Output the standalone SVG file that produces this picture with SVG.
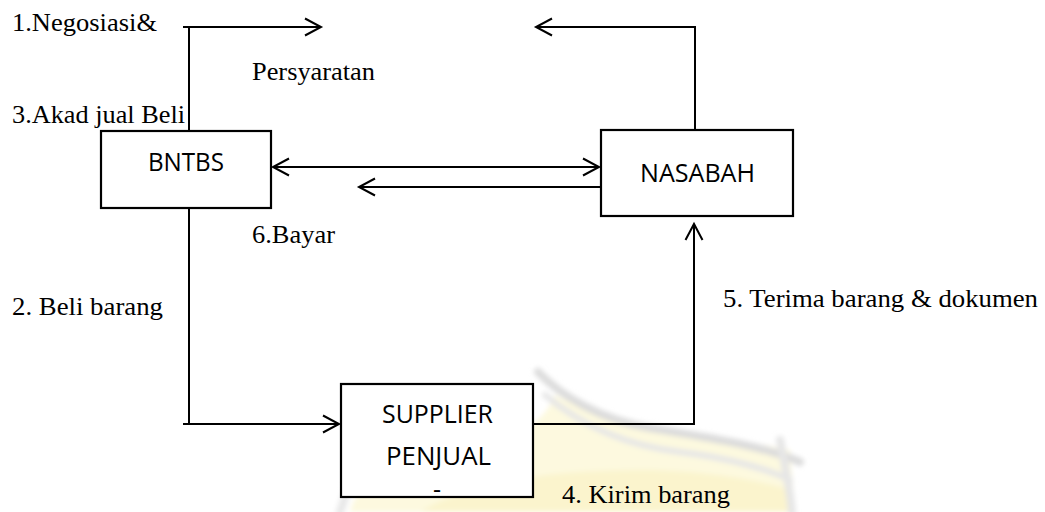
<svg xmlns="http://www.w3.org/2000/svg" width="1045" height="512" viewBox="0 0 1045 512">
<style>
.box{fill:#fff;stroke:#000;stroke-width:2.2}
.ln{fill:none;stroke:#000;stroke-width:2}
.lbl{font-family:"Liberation Serif","Times New Roman",serif;font-size:25px;fill:#000}
.nt{font-family:"Open Sans","Noto Sans",sans-serif;font-size:25px;fill:#000;text-anchor:middle}
.wm{fill:none;stroke-linecap:round}
</style>
<defs>
<marker id="arr" viewBox="0 0 20 20" refX="17" refY="10" markerWidth="20" markerHeight="20" markerUnits="userSpaceOnUse" orient="auto-start-reverse">
<path d="M1 1.5 L17 10 L1 18.5" fill="none" stroke="#000" stroke-width="2"/>
</marker>
<filter id="soft" x="-10%" y="-10%" width="120%" height="120%">
<feGaussianBlur stdDeviation="2.5"/>
</filter>
</defs>
<rect width="1045" height="512" fill="#fff"/>
<g id="watermark" filter="url(#soft)">
<path d="M350 512 C360 470 420 450 470 445 C520 440 545 420 555 395 C600 420 680 430 790 450 L795 512 Z" fill="#fdf9df"/>
<path d="M420 512 C470 480 560 470 640 470 C700 470 760 480 790 490 L790 512 Z" fill="#faf2c4" opacity="0.7"/>
<path class="wm" d="M538 372 C560 395 600 420 650 428 C710 438 760 445 800 462" stroke="#dcdcdc" stroke-width="8"/>
<path class="wm" d="M545 395 C575 420 620 445 680 452 C730 458 770 470 790 480" stroke="#e6e6e6" stroke-width="6"/>
<path class="wm" d="M340 512 C350 480 360 460 372 440" stroke="#e8e8e8" stroke-width="8"/>
<path class="wm" d="M780 440 C786 470 790 490 792 512" stroke="#e6e6e6" stroke-width="8"/>
</g>
<g id="connectors">
<path class="ln" d="M183 27 H321" marker-end="url(#arr)"/>
<path class="ln" d="M189 27 V131"/>
<path class="ln" d="M695 130 V27 H536" marker-end="url(#arr)"/>
<path class="ln" d="M273 167 H599" marker-start="url(#arr)" marker-end="url(#arr)"/>
<path class="ln" d="M601 187 H359" marker-end="url(#arr)"/>
<path class="ln" d="M189 208 V424"/>
<path class="ln" d="M183 424 H339" marker-end="url(#arr)"/>
<path class="ln" d="M533 424 H694 V224" marker-end="url(#arr)"/>
</g>
<g id="node-bntbs">
<rect class="box" x="101" y="131" width="170" height="77"/>
<text class="nt" x="186" y="171" textLength="76" lengthAdjust="spacingAndGlyphs">BNTBS</text>
</g>
<g id="node-nasabah">
<rect class="box" x="601" y="130" width="192" height="86"/>
<text class="nt" x="697.5" y="182" textLength="115" lengthAdjust="spacingAndGlyphs">NASABAH</text>
</g>
<g id="node-supplier">
<rect class="box" x="341" y="384" width="192" height="113"/>
<text class="nt" x="437.5" y="423" textLength="111" lengthAdjust="spacingAndGlyphs">SUPPLIER</text>
<text class="nt" x="438.5" y="465" textLength="105" lengthAdjust="spacingAndGlyphs">PENJUAL</text>
<text class="nt" x="437" y="498">-</text>
</g>
<g id="labels">
<text class="lbl" x="12" y="31" textLength="145" lengthAdjust="spacingAndGlyphs">1.Negosiasi&amp;</text>
<text class="lbl" x="252" y="80" textLength="123" lengthAdjust="spacingAndGlyphs">Persyaratan</text>
<text class="lbl" x="12" y="123" textLength="173" lengthAdjust="spacingAndGlyphs">3.Akad jual Beli</text>
<text class="lbl" x="252" y="243" textLength="83" lengthAdjust="spacingAndGlyphs">6.Bayar</text>
<text class="lbl" x="12" y="315" textLength="151" lengthAdjust="spacingAndGlyphs">2. Beli barang</text>
<text class="lbl" x="723" y="307" textLength="315" lengthAdjust="spacingAndGlyphs">5. Terima barang &amp; dokumen</text>
<text class="lbl" x="562" y="503" textLength="168" lengthAdjust="spacingAndGlyphs">4. Kirim barang</text>
</g>
</svg>
